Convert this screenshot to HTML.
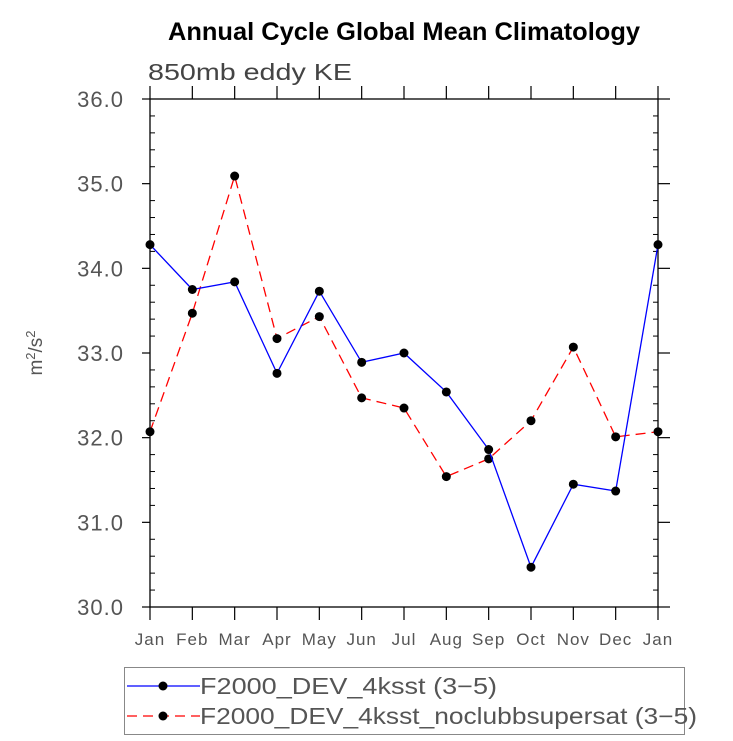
<!DOCTYPE html>
<html><head><meta charset="utf-8"><style>
body{margin:0;background:#fff}
svg{display:block;font-family:"Liberation Sans",sans-serif}
</style></head><body>
<svg id="chart" width="733" height="741" xmlns="http://www.w3.org/2000/svg">
<text x="168" y="40" font-size="25" font-weight="bold" textLength="472" lengthAdjust="spacingAndGlyphs">Annual Cycle Global Mean Climatology</text>
<text x="148" y="80" font-size="23" fill="#444" textLength="204" lengthAdjust="spacingAndGlyphs">850mb eddy KE</text>
<text transform="translate(42,353) rotate(-90)" text-anchor="middle" font-size="19" fill="#555">m<tspan dy="-7" font-size="13">2</tspan><tspan dy="7">/s</tspan><tspan dy="-7" font-size="13">2</tspan></text>
<g id="axes"></g>
<g id="series"></g>
<g>
<rect x="124.5" y="667.5" width="560" height="67" fill="none" stroke="#888" stroke-width="1"/>
<g>
<line x1="127" y1="686" x2="200" y2="686" stroke="#0000ff" stroke-width="1.3"/>
<circle cx="163" cy="686" r="4.5" fill="#000"/>
<text x="200" y="694" font-size="23" fill="#555" textLength="297" lengthAdjust="spacingAndGlyphs">F2000_DEV_4ksst (3−5)</text>
</g>
<g>
<line x1="127" y1="716" x2="200" y2="716" stroke="#ff0000" stroke-width="1.3" stroke-dasharray="10,6"/>
<circle cx="163" cy="716" r="4.5" fill="#000"/>
<text x="200" y="724" font-size="23" fill="#555" textLength="497" lengthAdjust="spacingAndGlyphs">F2000_DEV_4ksst_noclubbsupersat (3−5)</text>
</g>
</g>
</svg>
<script>
const months=["Jan","Feb","Mar","Apr","May","Jun","Jul","Aug","Sep","Oct","Nov","Dec","Jan"];
const blueValues=[34.28,33.75,33.84,32.76,33.73,32.89,33.0,32.54,31.86,30.47,31.45,31.37,34.28];
const redValues=[32.07,33.47,35.09,33.17,33.43,32.47,32.35,31.54,31.75,32.2,33.07,32.01,32.07];
const yTicks=["30.0","31.0","32.0","33.0","34.0","35.0","36.0"];
const NS="http://www.w3.org/2000/svg";
const L=150,R=658,T=99,B=607,ymin=30,ymax=36;
const xs=i=>L+(R-L)*i/(months.length-1);
const ys=v=>B-(v-ymin)/(ymax-ymin)*(B-T);
function mk(tag,attrs,parent){const e=document.createElementNS(NS,tag);for(const k in attrs)e.setAttribute(k,attrs[k]);parent.appendChild(e);return e;}
const ax=document.getElementById('axes');
const frame=mk('rect',{x:L,y:T,width:R-L,height:B-T,fill:'none',stroke:'#000','stroke-width':1.3},ax);


months.forEach((m,i)=>{
  const x=xs(i);
  mk('line',{x1:x,y1:B,x2:x,y2:B+13,stroke:'#000','stroke-width':1.2},ax);
  mk('line',{x1:x,y1:T,x2:x,y2:T-13,stroke:'#000','stroke-width':1.2},ax);
  const t=mk('text',{x:x,y:645,'text-anchor':'middle','font-size':17,'letter-spacing':1,fill:'#555'},ax);
  t.textContent=m;
  
  
});
for(let v=ymin;v<=ymax+1e-9;v+=0.2){
  const y=ys(v);const major=Math.abs(v-Math.round(v))<1e-6;
  if(major){
    mk('line',{x1:L-8,y1:y,x2:L,y2:y,stroke:'#000','stroke-width':1.2},ax);
    mk('line',{x1:R,y1:y,x2:R+12,y2:y,stroke:'#000','stroke-width':1.2},ax);
  }else{
    mk('line',{x1:L,y1:y,x2:L+5,y2:y,stroke:'#000','stroke-width':1},ax);
    mk('line',{x1:R-5,y1:y,x2:R,y2:y,stroke:'#000','stroke-width':1},ax);
  }
}
yTicks.forEach(s=>{
  const t=mk('text',{x:124,y:ys(parseFloat(s))+8,'text-anchor':'end','font-size':22,'letter-spacing':1,fill:'#555'},ax);
  t.textContent=s;
  
  
});
const sg=document.getElementById('series');
function series(vals,color,dash,name){
  const g=mk('g',{},sg);
  
  
  const p=mk('polyline',{points:vals.map((v,i)=>xs(i)+','+ys(v)).join(' '),fill:'none',stroke:color,'stroke-width':1.3},g);
  if(dash)p.setAttribute('stroke-dasharray',dash);
  vals.forEach((v,i)=>{
    const c=mk('circle',{cx:xs(i),cy:ys(v),r:4.5,fill:'#000'},g);
    
    
  });
}
series(redValues,'#ff0000','10,6','series-noclubbsupersat');
series(blueValues,'#0000ff',null,'series-4ksst');
</script>
</body></html>
